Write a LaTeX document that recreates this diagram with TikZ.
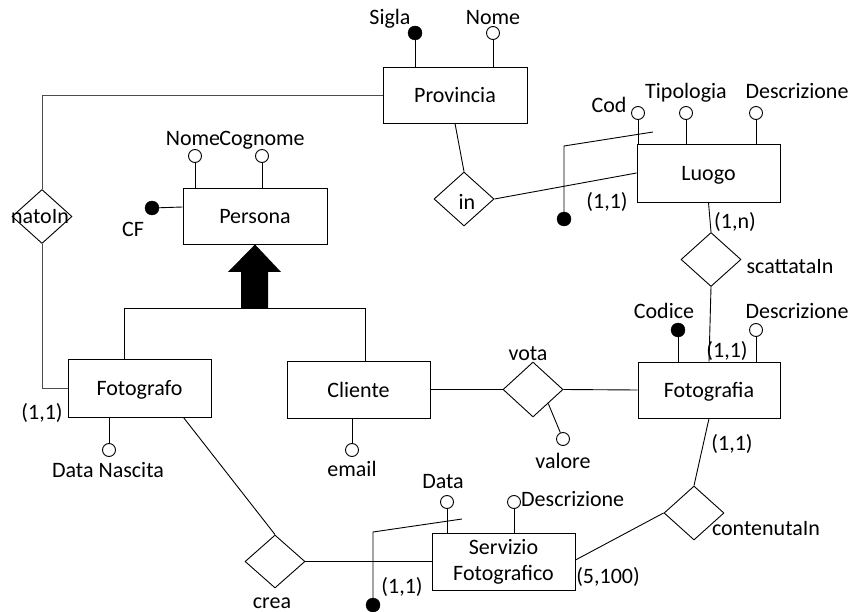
\documentclass[tikz,border=0pt]{standalone}
\usepackage{fontspec}
\setmainfont{Carlito}
\usetikzlibrary{shapes.geometric}
\begin{document}
\begin{tikzpicture}[x=1pt,y=-1pt,
  ent/.style={draw, line width=0.9pt, minimum width=143pt, minimum height=57pt, inner sep=0pt, text height=15pt, text depth=0pt, font=\fontsize{22}{26}\selectfont},
  ent2/.style={draw, line width=0.9pt, minimum width=143pt, minimum height=57pt, inner sep=0pt, align=center, font=\fontsize{22}{26}\selectfont},
  rel/.style={draw, diamond, line width=0.9pt, minimum width=60pt, minimum height=54pt, inner sep=0pt},
  attr/.style={circle, draw, fill=white, minimum size=13pt, inner sep=0pt, line width=0.9pt},
  keyattr/.style={circle, draw, fill=black, minimum size=14pt, inner sep=0pt},
  lbl/.style={inner sep=0pt, text height=14pt, text depth=0pt, font=\fontsize{22}{26}\selectfont},
  ln/.style={line width=0.9pt},
  gln/.style={line width=0.9pt, draw=black!70}
]
\useasboundingbox (0,0) rectangle (851,612);

% entities
\node[ent, minimum width=144pt, minimum height=56pt] (prov) at (455,95) {Provincia};
\node[ent, minimum height=58pt] (luogo) at (708.5,173) {Luogo};
\node[ent, minimum width=144pt, minimum height=56pt] (persona) at (255,216) {Persona};
\node[ent, minimum height=58pt] (fotografo) at (139.5,388) {Fotografo};
\node[ent] (cliente) at (358.5,389.5) {Cliente};
\node[ent, minimum width=142pt, minimum height=56pt] (fotografia) at (709,390) {Fotografia};
\node[ent2] (servizio) at (503.5,561.5) {Servizio\\Fotografico};

% relationships
\node[rel] (nato) at (42,216.5) {};
\node[rel] (in) at (464,199) {};
\node[rel] (scat) at (711,259.5) {};
\node[rel, minimum height=55pt] (vota) at (533,389.5) {};
\node[rel, minimum height=53pt] (crea) at (275,561.5) {};
\node[rel] (cont) at (694,513) {};

\node[lbl] (natoL) at (40,217) {natoIn};
\node[lbl] (inL) at (467,203) {in};
\node[lbl] (scatL) at (790,267) {scattataIn};
\node[lbl] (votaL) at (528,353) {vota};
\node[lbl] (creaL) at (272,601) {crea};
\node[lbl] (contL) at (766,528) {contenutaIn};

% connectors
\draw[gln] (prov.west) -| (nato.north);
\draw[gln] (nato.south) |- (fotografo.west);
\draw[ln] (prov.south) -- (in.north);
\draw[ln] (in.east) -- (luogo.west);
\draw[ln] (luogo.south) -- (scat.north);
\draw[ln] (scat.south) -- (fotografia.north);
\draw[ln] (fotografia.south) -- (cont.north);
\draw[ln] (cont.west) -- ([yshift=1.5pt]servizio.east);
\draw[ln] (servizio.west) -- (crea.east);
\draw[ln] (crea.north) -- ([xshift=-28pt]fotografo.south east);
\draw[ln] (cliente.east) -- (vota.west);
\draw[ln] (vota.east) -- (fotografia.west);

% generalization
\coordinate (gl) at (124,308);
\coordinate (gr) at (365,308);
\draw[ln] (gl) -- (gr);
\draw[ln] (gl) -- (gl |- fotografo.north);
\draw[ln] (gr) -- (gr |- cliente.north);
\fill[black] (241,308) -- (241,272) -- (228,272) -- (persona.south) -- (281,272) -- (268,272) -- (268,308) -- cycle;

% Provincia attributes
\node[keyattr] (sigla) at (415,33) {};
\draw[ln] (sigla) -- (sigla |- prov.north);
\node[lbl] at (390,18) {Sigla};
\node[attr] (pnome) at (493,33) {};
\draw[ln] (pnome) -- (pnome |- prov.north);
\node[lbl] at (493,18) {Nome};

% Luogo attributes
\node[attr] (cod) at (638,113) {};
\draw[ln] (cod) -- (cod |- luogo.north);
\node[lbl] at (609,106) {Cod};
\node[attr] (tipo) at (686,113) {};
\draw[ln] (tipo) -- (tipo |- luogo.north);
\node[lbl] at (686,92) {Tipologia};
\node[attr] (ldesc) at (756,113) {};
\draw[ln] (ldesc) -- (ldesc |- luogo.north);
\node[lbl] at (797,92) {Descrizione};
\coordinate (lid) at (653,132);
\node[keyattr] (lkey) at (564,219) {};
\draw[ln] (lid) -- (564,146) -- (lkey);
\node[lbl] at (607,202) {(1,1)};
\node[lbl] at (735,222) {(1,n)};

% Persona attributes
\node[attr] (nome) at (195,156) {};
\draw[ln] (nome) -- (nome |- persona.north);
\node[lbl] at (193,139) {Nome};
\node[attr] (cognome) at (262,156) {};
\draw[ln] (cognome) -- (cognome |- persona.north);
\node[lbl] at (262,139) {Cognome};
\node[keyattr] (cf) at (152,208) {};
\draw[ln] (cf) -- ([yshift=9pt]persona.west);
\node[lbl] at (133,230) {CF};

% Fotografo
\node[attr] (dn) at (109,450) {};
\draw[ln] (dn) -- (dn |- fotografo.south);
\node[lbl] at (108,470) {Data Nascita};
\node[lbl] at (42,412) {(1,1)};

% Cliente
\node[attr] (email) at (352,450) {};
\draw[ln] (email) -- (email |- cliente.south);
\node[lbl] at (352,469) {email};

% vota attribute
\node[attr] (valore) at (563,439) {};
\draw[ln] (vota.south east) -- (valore);
\node[lbl] at (563,461) {valore};

% Fotografia
\node[keyattr] (codice) at (678,330) {};
\draw[ln] (codice) -- (codice |- fotografia.north);
\node[lbl] at (664,311) {Codice};
\node[attr] (fdesc) at (756,330) {};
\draw[ln] (fdesc) -- (fdesc |- fotografia.north);
\node[lbl] at (797,311) {Descrizione};
\node[lbl] at (727,350) {(1,1)};
\node[lbl] at (732,443) {(1,1)};

% Servizio Fotografico
\node[attr] (sdata) at (447,502) {};
\draw[ln] (sdata) -- (sdata |- servizio.north);
\node[lbl] at (443,481) {Data};
\node[attr] (sdesc) at (514,502) {};
\draw[ln] (sdesc) -- (sdesc |- servizio.north);
\node[lbl, anchor=west] at (521,499) {Descrizione};
\coordinate (sid) at (462,519);
\node[keyattr] (skey) at (373,605) {};
\draw[ln] (sid) -- (373,532) -- (skey);
\node[lbl] at (402,586) {(1,1)};
\node[lbl] at (608,576) {(5,100)};
\end{tikzpicture}
\end{document}
